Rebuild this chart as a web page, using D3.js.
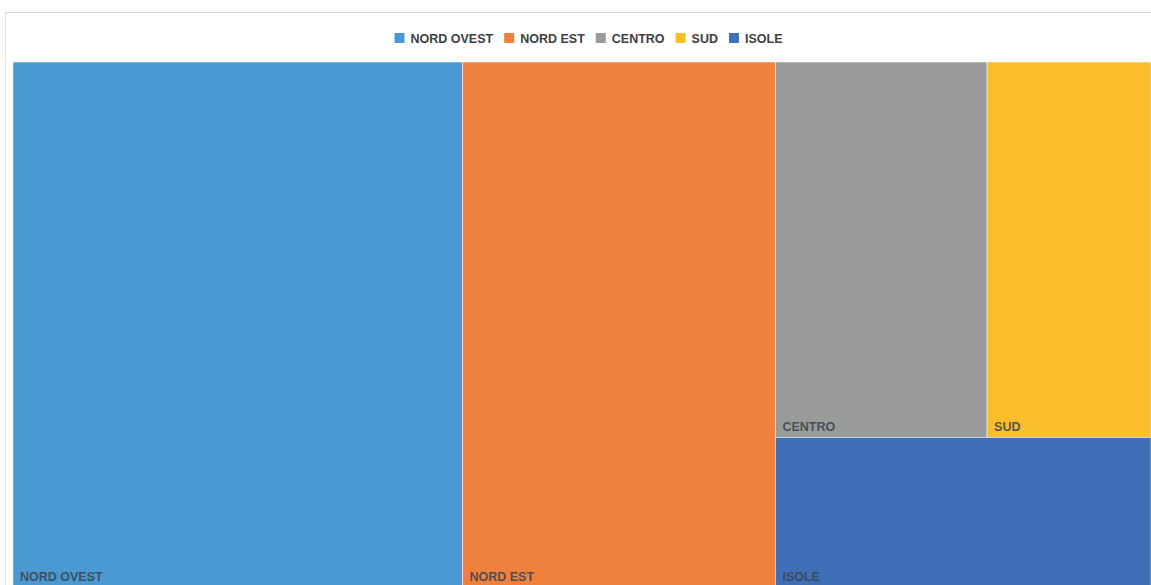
<!DOCTYPE html>
<html>
<head>
<meta charset="utf-8">
<script src="https://cdn.jsdelivr.net/npm/d3@7"></script>
<style>
  html, body { margin: 0; padding: 0; background: #ffffff; }
  svg { display: block; }
</style>
</head>
<body>
<svg id="chart" width="1151" height="585"></svg>
<script>
// ---- data ----
const categories = ["NORD OVEST", "NORD EST", "CENTRO", "SUD", "ISOLE"];
const values = [39.5, 27.5, 13.3, 10.3, 9.4];
const colors = ["#4b99d3", "#f0813c", "#9a9c9c", "#fbbd2a", "#3f70b7"];

const W = 1151, H = 585;
const svg = d3.select("#chart");
const font = "'Liberation Sans', Arial, sans-serif";

// frame
svg.append("line").attr("x1", 5).attr("x2", W).attr("y1", 12.5).attr("y2", 12.5)
  .attr("stroke", "#d6d6d6").attr("stroke-width", 1);
svg.append("line").attr("x1", 5.5).attr("x2", 5.5).attr("y1", 12).attr("y2", H)
  .attr("stroke", "#e2e2e2").attr("stroke-width", 1);

// treemap
const plot = { x0: 13, y0: 62, x1: 1151, y1: 587 };
const root = d3.hierarchy({ children: categories.map((c, i) => ({ name: c, value: values[i], color: colors[i] })) })
  .sum(d => d.value || 0)
  .sort((a, b) => b.value - a.value);

d3.treemap()
  .tile(d3.treemapSquarify.ratio(1.2))
  .size([plot.x1 - plot.x0, plot.y1 - plot.y0])
  .paddingInner(0)(root);

const g = svg.append("g").attr("transform", `translate(${plot.x0},${plot.y0})`);
const cells = g.selectAll("g.cell").data(root.leaves()).join("g").attr("class", "cell");
cells.append("rect")
  .attr("x", d => d.x0).attr("y", d => d.y0)
  .attr("width", d => d.x1 - d.x0).attr("height", d => d.y1 - d.y0)
  .attr("fill", d => d.data.color)
  .attr("stroke", "#ffffff").attr("stroke-opacity", 0.5).attr("stroke-width", 1);
cells.append("text")
  .attr("x", d => d.x0 + 7).attr("y", d => d.y1 - 6)
  .attr("font-family", font).attr("font-weight", "bold").attr("font-size", "12.5px")
  .attr("fill", "#3c4650").attr("fill-opacity", 0.9)
  .text(d => d.data.name);

// legend
const legend = svg.append("g");
let lx = 0;
categories.forEach((c, i) => {
  const item = legend.append("g").attr("transform", `translate(${lx},0)`);
  item.append("rect").attr("x", 0).attr("y", 33).attr("width", 10).attr("height", 10).attr("fill", colors[i]);
  const t = item.append("text").attr("x", 16).attr("y", 42.5)
    .attr("font-family", font).attr("font-weight", "bold").attr("font-size", "12.5px")
    .attr("fill", "#404040").text(c);
  lx += 16 + t.node().getComputedTextLength() + 11;
});
const totalW = lx - 11;
legend.attr("transform", `translate(${(394 + 783) / 2 - totalW / 2},0)`);
</script>
</body>
</html>
